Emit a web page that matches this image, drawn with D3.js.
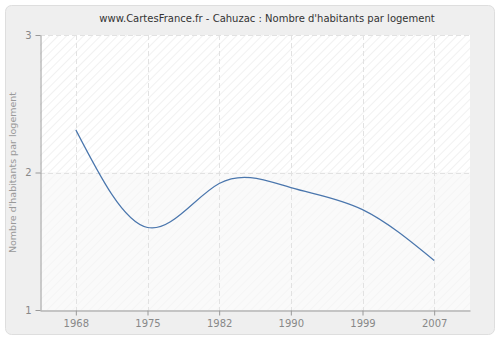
<!DOCTYPE html>
<html>
<head>
<meta charset="utf-8">
<script src="https://cdn.jsdelivr.net/npm/d3@7"></script>
<style>
  html, body { margin: 0; padding: 0; background: #ffffff; }
  svg { display: block; }
</style>
</head>
<body>
<svg id="chart" width="500" height="340"></svg>
<script>
// Census years and average number of inhabitants per dwelling
const years = ["1968", "1975", "1982", "1990", "1999", "2007"];
const values = [2.31, 1.60, 1.92, 1.89, 1.73, 1.36];
const yTicks = [1, 2, 3];
const titleText = "www.CartesFrance.fr - Cahuzac : Nombre d'habitants par logement";
const yLabel = "Nombre d'habitants par logement";

const W = 500, H = 340;
const plot = { left: 40, right: 470, top: 35, bottom: 310 };
const font = "'DejaVu Sans', Verdana, sans-serif";

const svg = d3.select("#chart");

// Outer panel
svg.append("rect")
  .attr("x", 5.5).attr("y", 5.5)
  .attr("width", W - 11).attr("height", H - 11)
  .attr("rx", 6).attr("ry", 6)
  .attr("fill", "#efefef")
  .attr("stroke", "#dedede");

// Hatch patterns for the plot bands
const defs = svg.append("defs");
function hatch(id, bg, line) {
  const p = defs.append("pattern")
    .attr("id", id)
    .attr("patternUnits", "userSpaceOnUse")
    .attr("width", 6).attr("height", 6)
    .attr("patternTransform", "rotate(45)");
  p.append("rect").attr("width", 6).attr("height", 6).attr("fill", bg);
  p.append("line").attr("x1", 0).attr("y1", 0).attr("x2", 0).attr("y2", 6)
    .attr("stroke", line).attr("stroke-width", 1.2);
}
hatch("hatchTop", "#ffffff", "#e8e8e8");
hatch("hatchBottom", "#fafafa", "#f2f2f2");

const x = d3.scalePoint().domain(years).range([plot.left, plot.right]).padding(0.5);
const y = d3.scaleLinear().domain([1, 3]).range([plot.bottom, plot.top]);

// Alternating bands between the y ticks
const bands = d3.pairs(yTicks);
svg.append("g").selectAll("rect").data(bands).join("rect")
  .attr("x", plot.left)
  .attr("y", d => y(d[1]))
  .attr("width", plot.right - plot.left)
  .attr("height", d => y(d[0]) - y(d[1]))
  .attr("fill", (d, i) => i % 2 === 0 ? "url(#hatchBottom)" : "url(#hatchTop)");

// Dashed grid
const grid = svg.append("g")
  .attr("stroke", "#e2e2e2")
  .attr("stroke-dasharray", "5,3")
  .attr("stroke-width", 1);
grid.selectAll("line.v").data(years).join("line")
  .attr("class", "v")
  .attr("x1", d => Math.round(x(d)) + 0.5).attr("x2", d => Math.round(x(d)) + 0.5)
  .attr("y1", plot.top).attr("y2", plot.bottom);
grid.selectAll("line.h").data(yTicks.slice(1)).join("line")
  .attr("class", "h")
  .attr("x1", plot.left).attr("x2", plot.right)
  .attr("y1", d => Math.round(y(d)) + 0.5).attr("y2", d => Math.round(y(d)) + 0.5);

// Axes
const xAxis = svg.append("g")
  .attr("transform", `translate(0,${plot.bottom + 0.5})`)
  .call(d3.axisBottom(x).tickSize(5).tickSizeOuter(0).tickPadding(4));
const yAxis = svg.append("g")
  .attr("transform", `translate(${plot.left + 0.5},0)`)
  .call(d3.axisLeft(y).tickValues(yTicks).tickFormat(d3.format("d")).tickSize(5).tickSizeOuter(0).tickPadding(4));

[xAxis, yAxis].forEach(g => {
  g.select(".domain").attr("stroke", "#999999");
  g.selectAll(".tick line").attr("stroke", "#999999");
  g.selectAll(".tick text")
    .attr("fill", "#888888")
    .style("font-family", font)
    .style("font-size", "10px");
});

// Data line
const line = d3.line()
  .x((d, i) => x(years[i]))
  .y(d => y(d))
  .curve(d3.curveNatural);
svg.append("path")
  .datum(values)
  .attr("fill", "none")
  .attr("stroke", "#4a76ad")
  .attr("stroke-width", 1.2)
  .attr("d", line);

// Title
svg.append("text")
  .attr("x", 267).attr("y", 22)
  .attr("text-anchor", "middle")
  .attr("fill", "#333333")
  .style("font-family", font)
  .style("font-size", "10px")
  .text(titleText);

// Y axis title
svg.append("text")
  .attr("transform", `translate(16,${(plot.top + plot.bottom) / 2}) rotate(-90)`)
  .attr("text-anchor", "middle")
  .attr("fill", "#999999")
  .style("font-family", font)
  .style("font-size", "9.5px")
  .text(yLabel);
</script>
</body>
</html>
